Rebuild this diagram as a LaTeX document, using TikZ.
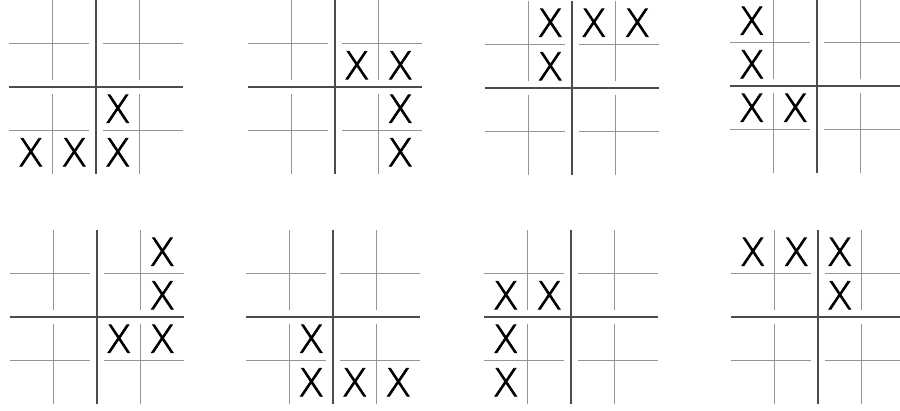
\documentclass[tikz,border=0pt]{standalone}
\usepackage{fontspec}
\newfontfamily\xfont[FakeBold=2]{DejaVuSans-ExtraLight.ttf}
\tikzset{
  thickline/.style={line width=1.4pt, draw=black!70},
  thinline/.style={line width=0.9pt, draw=black!42},
  xmark/.style={inner sep=0pt, text=black, font=\xfont\fontsize{38.4}{40}\selectfont}
}
\newcommand\tttpanel[4]{%
  \begin{scope}[shift={(#1,#2)}]
    \draw[thickline] (0,-87) -- (0,87);
    \draw[thickline] (-87,0) -- (87,0);
    \foreach \s in {-1,1}{
      \draw[thinline] (-87,\s*43.5) -- (-7,\s*43.5);
      \draw[thinline] (7,\s*43.5) -- (87,\s*43.5);
      \draw[thinline] (\s*43.5,-87) -- (\s*43.5,-7);
      \draw[thinline] (\s*43.5,7) -- (\s*43.5,87);
    }
    \foreach \r/\c in {#4}
      \node[xmark] (x#3-\r\c) at ({(\c-1.5)*43.5},{(\r-1.5)*43.5}) {X};
  \end{scope}}
\begin{document}
\begin{tikzpicture}[x=1pt,y=-1pt]
  \useasboundingbox (0,0) rectangle (900,410);
  \tttpanel{96}{87}{a}{2/2,3/0,3/1,3/2}
  \tttpanel{335}{87}{b}{1/2,1/3,2/3,3/3}
  \tttpanel{572}{88}{c}{0/1,0/2,0/3,1/1}
  \tttpanel{817}{86}{d}{0/0,1/0,2/0,2/1}
  \tttpanel{97}{317}{e}{0/3,1/3,2/2,2/3}
  \tttpanel{333}{317}{f}{2/1,3/1,3/2,3/3}
  \tttpanel{571}{317}{g}{1/0,1/1,2/0,3/0}
  \tttpanel{818}{317}{h}{0/0,0/1,0/2,1/2}
\end{tikzpicture}
\end{document}
